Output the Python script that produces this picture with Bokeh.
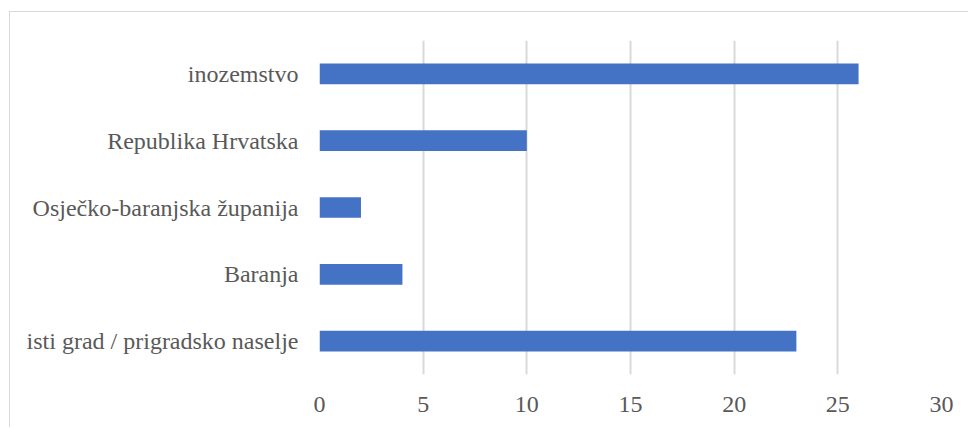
from bokeh.plotting import figure
from bokeh.models import FactorRange, Range1d, FixedTicker
from bokeh.embed import file_html
from bokeh.resources import INLINE

categories = ["isti grad / prigradsko naselje", "Baranja", "Osječko-baranjska županija",
              "Republika Hrvatska", "inozemstvo"]
values = [23, 4, 2, 10, 26]
x_ticks = [0, 5, 10, 15, 20, 25, 30]

p = figure(width=959, height=416, output_backend="svg", toolbar_location=None,
           y_range=FactorRange(factors=categories, range_padding=0),
           x_range=Range1d(0, 30),
           min_border_left=309, min_border_right=28, min_border_top=28, min_border_bottom=54)
p.hbar(y=categories, right=values, left=0, height=0.31, color="#4472C4", line_color=None)

p.styles = {"border-left": "1px solid #d9d9d9", "border-top": "1px solid #d9d9d9",
            "margin-left": "9px", "margin-top": "11px"}
p.outline_line_color = None
p.ygrid.grid_line_color = None
p.xgrid.grid_line_color = "#d9d9d9"
p.xgrid.grid_line_width = 2
p.xaxis.ticker = FixedTicker(ticks=x_ticks)
for ax in (p.xaxis, p.yaxis):
    ax.axis_line_color = None
    ax.major_tick_line_color = None
    ax.minor_tick_line_color = None
    ax.major_tick_out = 0
    ax.major_tick_in = 0
    ax.major_label_text_font = "Liberation Serif"
    ax.major_label_text_font_size = "24px"
    ax.major_label_text_color = "#595959"
p.yaxis.major_label_standoff = 21
p.xaxis.major_label_standoff = 22

open("out.html", "w").write(file_html(p, INLINE))
